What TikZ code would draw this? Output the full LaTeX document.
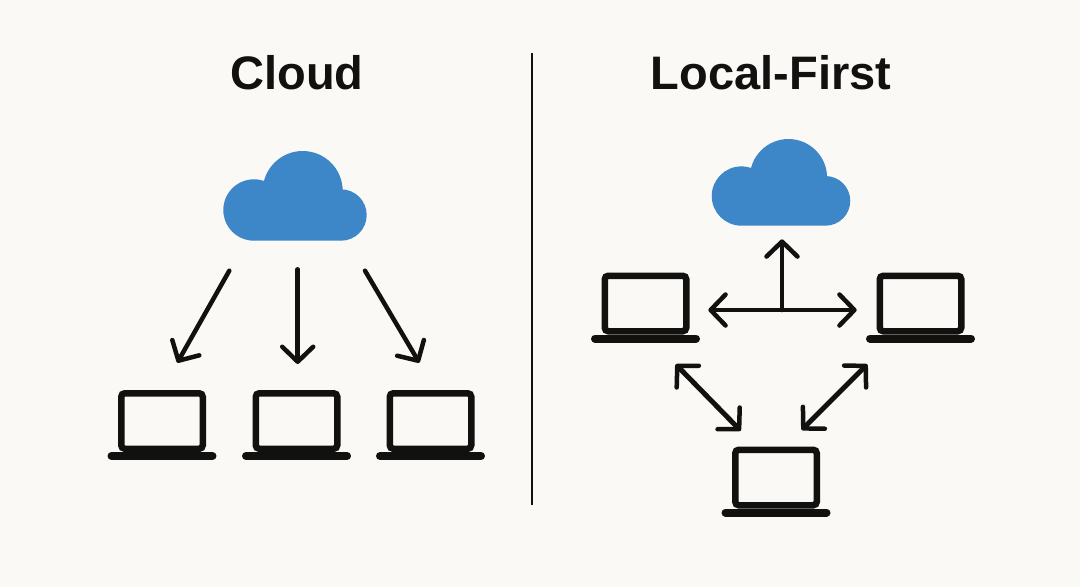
\documentclass[tikz,border=0pt]{standalone}
\usepackage{fontspec}
\setmainfont{Liberation Sans}
\usetikzlibrary{arrows.meta}
\definecolor{paper}{HTML}{FBF9F5}
\definecolor{ink}{HTML}{111110}
\definecolor{cloudblue}{HTML}{3D87C8}
\tikzset{
  laptop/.style={draw=ink,line width=6.5pt,rounded corners=3.5pt,minimum width=81.5pt,minimum height=55.5pt,inner sep=0pt,outer sep=0pt},
  lapbase/.style={draw=ink,line width=8pt,line cap=round},
  conn/.style={draw=ink,line width=4.5pt,line cap=round,line join=round},
  tip/.tip={Straight Barb[length=15pt,width=31pt,line width=4.5pt,round]},
  oneway/.style={conn,-{tip}},
  twoway/.style={conn,{tip}-{tip}},
  title/.style={font=\fontsize{47}{47}\selectfont\bfseries,text=ink,inner sep=0pt},
  cloudbox/.style={inner sep=0pt,outer sep=0pt,minimum width=#1*144pt,minimum height=#1*90pt}
}
\newcommand{\laptopat}[3]{%
  \node[laptop] (#1) at (#2,#3) {};
  \draw[lapbase] ([shift={(-50.5pt,-7.3pt)}]#1.south) -- ([shift={(50.5pt,-7.3pt)}]#1.south);
}
\newcommand{\cloudat}[4]{%
  \begin{scope}[shift={(#2,#3)},scale=#4]
    \fill[cloudblue] (-41,14) circle[radius=30.7pt] (7.7,-5) circle[radius=40pt] (46,19) circle[radius=25.7pt] (-41,-5) rectangle (46,44.7);
  \end{scope}
  \node[cloudbox=#4] (#1) at (#2,#3) {};
}
\begin{document}
\begin{tikzpicture}[x=1pt,y=-1pt]
\useasboundingbox (0,0) rectangle (1080,587);
\fill[paper] (0,0) rectangle (1080,587);
\node[title] (tcloud) at (297,73) {Cloud};
\node[title] (tlocal) at (771,73) {Local-First};
\coordinate (divtop) at (532,53);
\coordinate (divbot) at (532,505);
\draw[draw=ink,line width=2.5pt] (divtop) -- (divbot);
% left side
\cloudat{c1}{295}{196}{1}
\laptopat{l1}{162}{421}
\laptopat{l2}{296.5}{421}
\laptopat{l3}{430.5}{421}
\coordinate (a1s) at (229.3,270.7);
\coordinate (a1e) at (177.3,362.7);
\coordinate (a2s) at (297.7,269.3);
\coordinate (a2e) at (297.7,364);
\coordinate (a3s) at (365,270.7);
\coordinate (a3e) at (419.3,362.7);
\draw[oneway] (a1s) -- (a1e);
\draw[oneway] (a2s) -- (a2e);
\draw[oneway] (a3s) -- (a3e);
% right side
\cloudat{c2}{781}{182.5}{0.966}
\laptopat{r1}{645.5}{303.5}
\laptopat{r2}{920.5}{303.5}
\laptopat{r3}{776}{477.5}
\coordinate (hl) at (708.3,310);
\coordinate (hr) at (856.7,310);
\coordinate (hub) at (782,310);
\coordinate (up) at (782,239.3);
\draw[twoway] (hl) -- (hr);
\draw[oneway] (hub) -- (up);
\coordinate (d1a) at (675.7,364.3);
\coordinate (d1b) at (740.7,430.7);
\coordinate (d2a) at (867.3,364.3);
\coordinate (d2b) at (801.7,430);
\draw[twoway,line width=5pt] (d1a) -- (d1b);
\draw[twoway,line width=5pt] (d2a) -- (d2b);
\end{tikzpicture}
\end{document}
